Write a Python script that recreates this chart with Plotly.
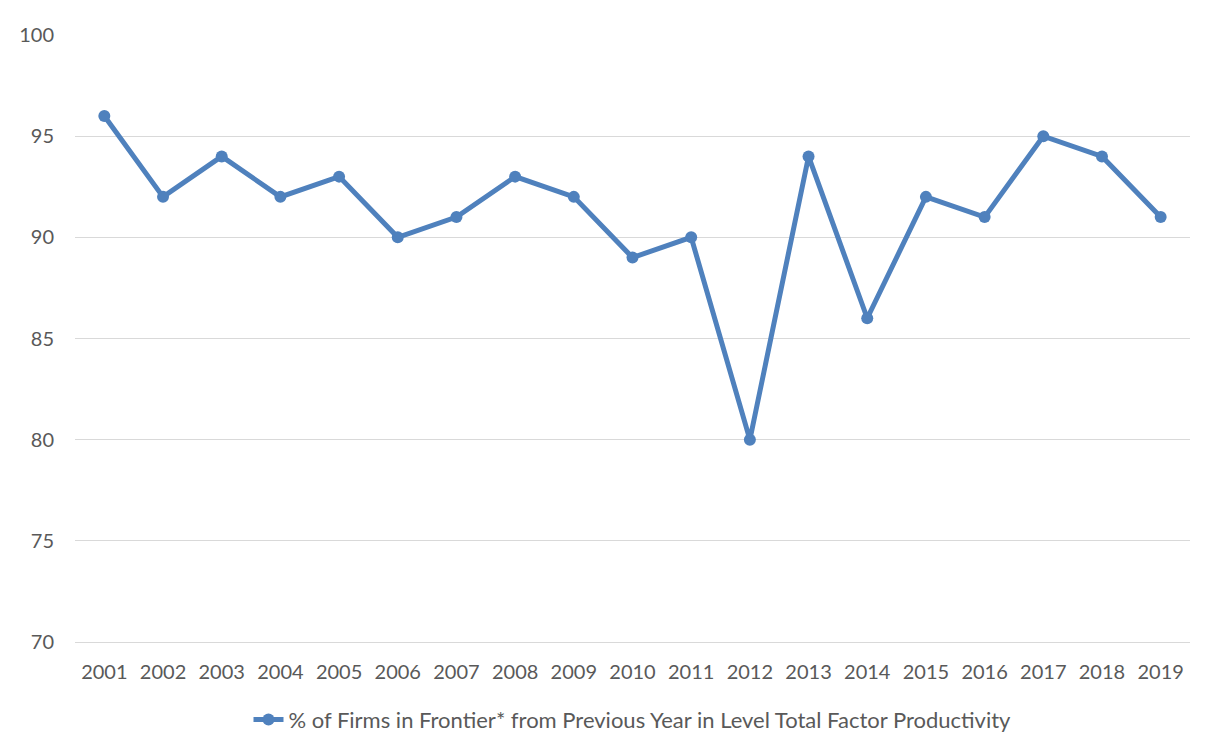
import plotly.graph_objects as go

# Share of firms staying in the TFP frontier, by year
years = [str(y) for y in range(2001, 2020)]
pct_in_frontier = [96, 92, 94, 92, 93, 90, 91, 93, 92, 89, 90, 80, 94, 86, 92, 91, 95, 94, 91]
series_name = "% of Firms in Frontier* from Previous Year in Level Total Factor Productivity"
y_ticks = [70, 75, 80, 85, 90, 95, 100]

LINE_BLUE = "#4F81BD"
TEXT_GREY = "#595959"

fig = go.Figure()
fig.add_trace(go.Scatter(
    x=years,
    y=pct_in_frontier,
    mode="lines+markers",
    name=series_name,
    line=dict(color=LINE_BLUE, width=5),
    marker=dict(size=12, color=LINE_BLUE),
))

# page body adds 8px, so margins are shifted to keep the plot box where it should be
fig.update_layout(
    width=1215, height=740,
    paper_bgcolor="white", plot_bgcolor="white",
    font=dict(family="Lato, Open Sans, sans-serif", size=20, color=TEXT_GREY),
    margin=dict(l=67, r=33, t=27, b=106, autoexpand=False),
    showlegend=True,
    legend=dict(
        orientation="h", xanchor="center", x=0.5,
        yanchor="middle", y=-0.128,
        font=dict(size=22, color=TEXT_GREY),
    ),
    xaxis=dict(
        type="category", range=[-0.5, 18.5],
        showgrid=False, showline=True, linecolor="#D9D9D9", linewidth=1,
        ticks="", ticklabelstandoff=12,
        tickfont=dict(size=20, color=TEXT_GREY),
    ),
    yaxis=dict(
        range=[70, 100], tickvals=y_ticks,
        showgrid=True, gridcolor="#D9D9D9", gridwidth=1,
        zeroline=False, showline=False, ticks="",
        ticklabelstandoff=20,
        tickfont=dict(size=20, color=TEXT_GREY),
    ),
)

fig.write_html("out.html")
